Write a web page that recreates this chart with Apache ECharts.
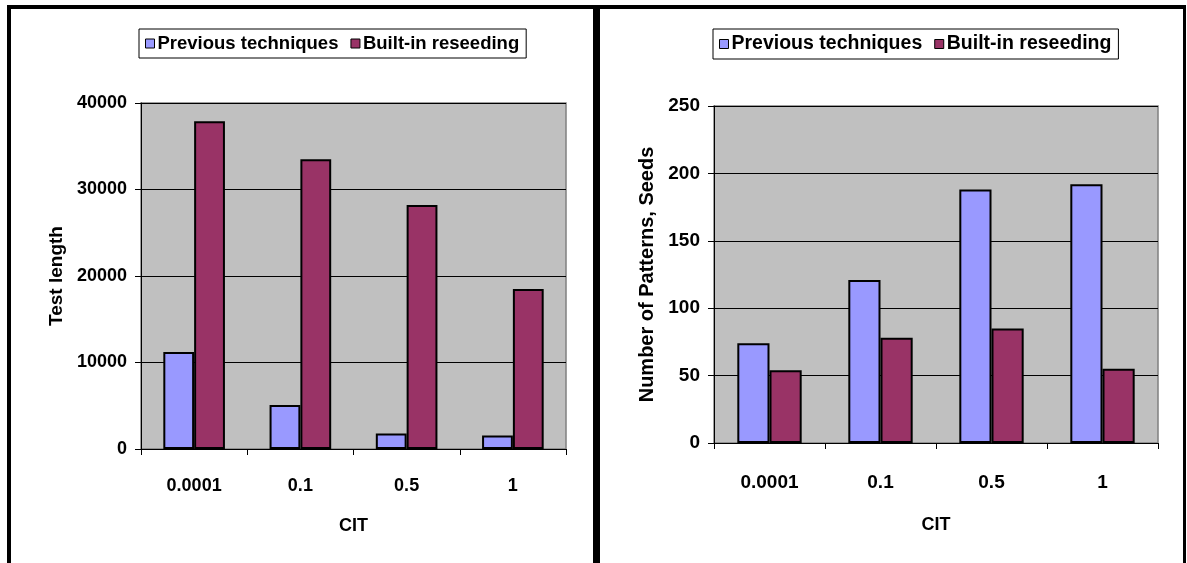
<!DOCTYPE html>
<html>
<head>
<meta charset="utf-8">
<title>CIT charts</title>
<script src="https://cdn.jsdelivr.net/npm/echarts/dist/echarts.min.js"></script>
<style>
  html, body { margin: 0; padding: 0; background: #fff; }
  #chart { width: 1187px; height: 563px; }
</style>
</head>
<body>
<div id="chart"></div>
<script>
// data
var categories = ['0.0001', '0.1', '0.5', '1']
var seriesNames = ['Previous techniques', 'Built-in reseeding']
// left panel: test length
var testPrev = [11200, 5100, 1800, 1550]
var testReseed = [37900, 33500, 28200, 18500]
// right panel: number of patterns / seeds
var patPrev = [74, 121, 188, 192]
var patReseed = [54, 78, 85, 55]

var FONT = '"Liberation Sans", Arial, sans-serif'
var PREV_COLOR = '#9999FF'
var RESEED_COLOR = '#993366'

var chart = echarts.init(document.getElementById('chart'))

function legendOf(left, size, gap) {
  return {
    left: left,
    top: 29,
    data: seriesNames,
    icon: 'rect',
    itemWidth: 9,
    itemHeight: 9,
    itemGap: gap,
    padding: [5, 7, 5, 6],
    borderColor: '#000',
    borderWidth: 1,
    backgroundColor: '#fff',
    selectedMode: false,
    itemStyle: { borderColor: '#000', borderWidth: 1 },
    // pull the text a little closer to the marker
    textStyle: { fontFamily: FONT, fontWeight: 'bold', fontSize: size, color: '#000', padding: [0, 0, 0, -2] }
  }
}

function xAxisOf(gridIndex, size, margin, nameGap) {
  return {
    type: 'category',
    gridIndex: gridIndex,
    data: categories,
    name: 'CIT',
    nameLocation: 'middle',
    nameGap: nameGap,
    nameTextStyle: { fontFamily: FONT, fontWeight: 'bold', fontSize: 18, color: '#000' },
    axisLine: { lineStyle: { color: '#000', width: 1 } },
    axisTick: { show: true, length: 6, lineStyle: { color: '#000' } },
    axisLabel: { margin: margin, fontFamily: FONT, fontWeight: 'bold', fontSize: size, color: '#000' },
    splitLine: { show: false }
  }
}

function yAxisOf(gridIndex, name, max, interval, size, nameSize, nameGap) {
  return {
    type: 'value',
    gridIndex: gridIndex,
    min: 0,
    max: max,
    interval: interval,
    name: name,
    nameLocation: 'middle',
    nameGap: nameGap,
    nameTextStyle: { fontFamily: FONT, fontWeight: 'bold', fontSize: nameSize, color: '#000' },
    axisLine: { show: true, lineStyle: { color: '#000', width: 1 } },
    axisTick: { show: true, length: 6, lineStyle: { color: '#000' } },
    axisLabel: {
      margin: 14,
      fontFamily: FONT,
      fontWeight: 'bold',
      fontSize: size,
      color: '#000',
      formatter: function (v) { return String(v) } // no thousands separator
    },
    splitLine: { show: true, lineStyle: { color: '#000', width: 1 } }
  }
}

function barOf(name, data, idx, color) {
  return {
    name: name,
    type: 'bar',
    xAxisIndex: idx,
    yAxisIndex: idx,
    data: data,
    barGap: 0,
    barCategoryGap: '42%',
    itemStyle: { color: color, borderColor: '#000', borderWidth: 2 }
  }
}

chart.setOption({
  animation: false,
  // panel frame
  graphic: [
    { type: 'line', shape: { x1: 9, y1: 5, x2: 9, y2: 563 }, style: { stroke: '#000', lineWidth: 4 } },
    { type: 'line', shape: { x1: 7, y1: 7, x2: 1186, y2: 7 }, style: { stroke: '#000', lineWidth: 4 } },
    { type: 'line', shape: { x1: 596.5, y1: 5, x2: 596.5, y2: 563 }, style: { stroke: '#000', lineWidth: 7 } },
    { type: 'line', shape: { x1: 1184.5, y1: 5, x2: 1184.5, y2: 563 }, style: { stroke: '#000', lineWidth: 3 } }
  ],
  legend: [legendOf(139, 18.5, 12), legendOf(713, 19.5, 12)],
  grid: [
    { left: 141, top: 103, width: 425, height: 346, show: true, backgroundColor: '#C0C0C0', borderColor: '#808080', borderWidth: 1.5 },
    { left: 714, top: 106, width: 444, height: 337, show: true, backgroundColor: '#C0C0C0', borderColor: '#808080', borderWidth: 1.5 }
  ],
  xAxis: [
    xAxisOf(0, 18, 28, 68),
    xAxisOf(1, 19, 30, 73)
  ],
  yAxis: [
    yAxisOf(0, 'Test length', 40000, 10000, 18, 19, 75),
    yAxisOf(1, 'Number of Patterns, Seeds', 250, 50, 19, 20, 57)
  ],
  series: [
    barOf(seriesNames[0], testPrev, 0, PREV_COLOR),
    barOf(seriesNames[1], testReseed, 0, RESEED_COLOR),
    barOf(seriesNames[0], patPrev, 1, PREV_COLOR),
    barOf(seriesNames[1], patReseed, 1, RESEED_COLOR)
  ]
})
</script>
</body>
</html>
